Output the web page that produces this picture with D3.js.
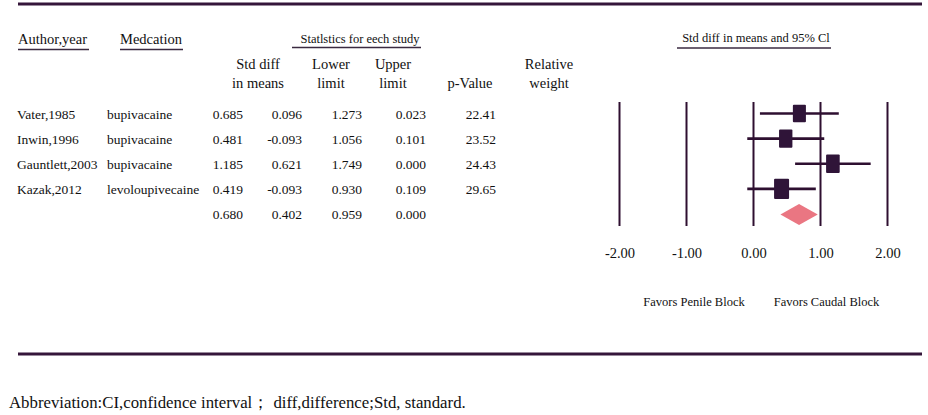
<!DOCTYPE html>
<html><head><meta charset="utf-8">
<script src="https://cdn.jsdelivr.net/npm/d3@7"></script>
<style>body{margin:0;background:#fff}svg{display:block}text{font-family:"Liberation Serif","Times New Roman",serif;fill:#111}</style>
</head><body>
<script>
const authors = ["Vater,1985","Inwin,1996","Gauntlett,2003","Kazak,2012"];
const medications = ["bupivacaine","bupivacaine","bupivacaine","levoloupivecaine"];
const stdDiff = [0.685,0.481,1.185,0.419];
const lowerLimit = [0.096,-0.093,0.621,-0.093];
const upperLimit = [1.273,1.056,1.749,0.930];
const pValues = ["0.023","0.101","0.000","0.109"];
const weights = [22.41,23.52,24.43,29.65];
const summaryEst = 0.680, summaryLower = 0.402, summaryUpper = 0.959, summaryP = "0.000";
const tickValues = [-2,-1,0,1,2];
const favorLabels = ["Favors Penile Block","Favors Caudal Block"];

const W=928,H=415;
const svg=d3.select("body").append("svg").attr("width",W).attr("height",H);
const lineCol="#35163a";

// rules
svg.append("line").attr("x1",18).attr("x2",922).attr("y1",4).attr("y2",4).attr("stroke",lineCol).attr("stroke-width",3);
svg.append("line").attr("x1",18).attr("x2",922).attr("y1",354).attr("y2",354).attr("stroke",lineCol).attr("stroke-width",3);

function txt(x,y,t,size,anchor){
  return svg.append("text").attr("x",x).attr("y",y).attr("font-size",size).attr("text-anchor",anchor||"start").text(t);
}
// headers
txt(18,44,"Author,year",14.5);
svg.append("line").attr("x1",18).attr("x2",89).attr("y1",49.5).attr("y2",49.5).attr("stroke","#3a2a40").attr("stroke-width",1.6);
txt(120,44,"Medcation",14.5);
svg.append("line").attr("x1",120).attr("x2",183).attr("y1",49.5).attr("y2",49.5).attr("stroke","#3a2a40").attr("stroke-width",1.6);
txt(360,43,"Statlstics for eech study",12.5,"middle");
svg.append("line").attr("x1",292).attr("x2",421).attr("y1",47.5).attr("y2",47.5).attr("stroke","#3a2a40").attr("stroke-width",1.6);
txt(756,42,"Std diff in means and 95% Cl",12.5,"middle");
svg.append("line").attr("x1",677).attr("x2",831).attr("y1",48).attr("y2",48).attr("stroke","#3a2a40").attr("stroke-width",1.6);

const colHeads=[[258,["Std diff","in means"]],[331,["Lower","limit"]],[393,["Upper","limit"]],[470,["","p-Value"]],[549,["Relative","weight"]]];
colHeads.forEach(([x,ls])=>{
  ls.forEach((l,i)=>{ if(l) txt(x,i?87.5:68.5,l,14.5,"middle");});
});

// rows
const nRows=authors.length+1;
const y=d3.scaleLinear().domain([0,nRows-1]).range([114,214.5]);
const fs=13.5;
authors.forEach((a,i)=>{
  const yy=y(i)+4.6;
  txt(17,yy,a,fs);
  txt(107,yy,medications[i],fs);
  txt(243,yy,stdDiff[i].toFixed(3),fs,"end");
  txt(302,yy,lowerLimit[i].toFixed(3),fs,"end");
  txt(362,yy,upperLimit[i].toFixed(3),fs,"end");
  txt(426,yy,pValues[i],fs,"end");
  txt(496,yy,weights[i].toFixed(2),fs,"end");
});
{
  const yy=y(4)+4.6;
  txt(243,yy,summaryEst.toFixed(3),fs,"end");
  txt(302,yy,summaryLower.toFixed(3),fs,"end");
  txt(362,yy,summaryUpper.toFixed(3),fs,"end");
  txt(426,yy,summaryP,fs,"end");
}

// forest
const x=d3.scaleLinear().domain([-2,2]).range([619.5,887.5]);
const g=svg.append("g");
g.selectAll("line.v").data(tickValues).enter().append("line")
  .attr("x1",d=>x(d)).attr("x2",d=>x(d)).attr("y1",102).attr("y2",226)
  .attr("stroke","#2e0f30").attr("stroke-width",2);
const ax=svg.append("g").attr("transform","translate(0,245)")
  .call(d3.axisBottom(x).tickValues(tickValues).tickSize(0).tickFormat(d=>d.toFixed(2)));
ax.select(".domain").remove();
ax.selectAll("text").attr("font-size",14.5).attr("font-family","Liberation Serif").attr("fill","#111").attr("dy","0.71em");

const size=d3.scaleSqrt().domain([0,d3.max(weights)]).range([0,15]);
authors.forEach((a,i)=>{
  g.append("line").attr("x1",x(lowerLimit[i])).attr("x2",x(upperLimit[i])).attr("y1",y(i)-0.5).attr("y2",y(i)-0.5)
    .attr("stroke","#2e0f30").attr("stroke-width",2.6);
  const w=size(weights[i]), h=w*1.36;
  g.append("rect").attr("x",x(stdDiff[i])-w/2).attr("y",y(i)-0.5-h/2).attr("width",w).attr("height",h)
    .attr("fill","#2f1438").attr("rx",1);
});
const dy=y(4);
g.append("path").attr("d",`M${x(summaryLower)},${dy} L${x(summaryEst)},${dy-10.5} L${x(summaryUpper)},${dy} L${x(summaryEst)},${dy+10.5} Z`)
  .attr("fill","#ea7682");

txt(694,306,favorLabels[0],12.5,"middle");
txt(826.5,306,favorLabels[1],12.5,"middle");

svg.append("text").attr("x",9).attr("y",408).attr("font-size",16.8).style("white-space","pre")
  .text("Abbreviation:CI,confidence interval； diff,difference;Std, standard.");
</script>
</body></html>
